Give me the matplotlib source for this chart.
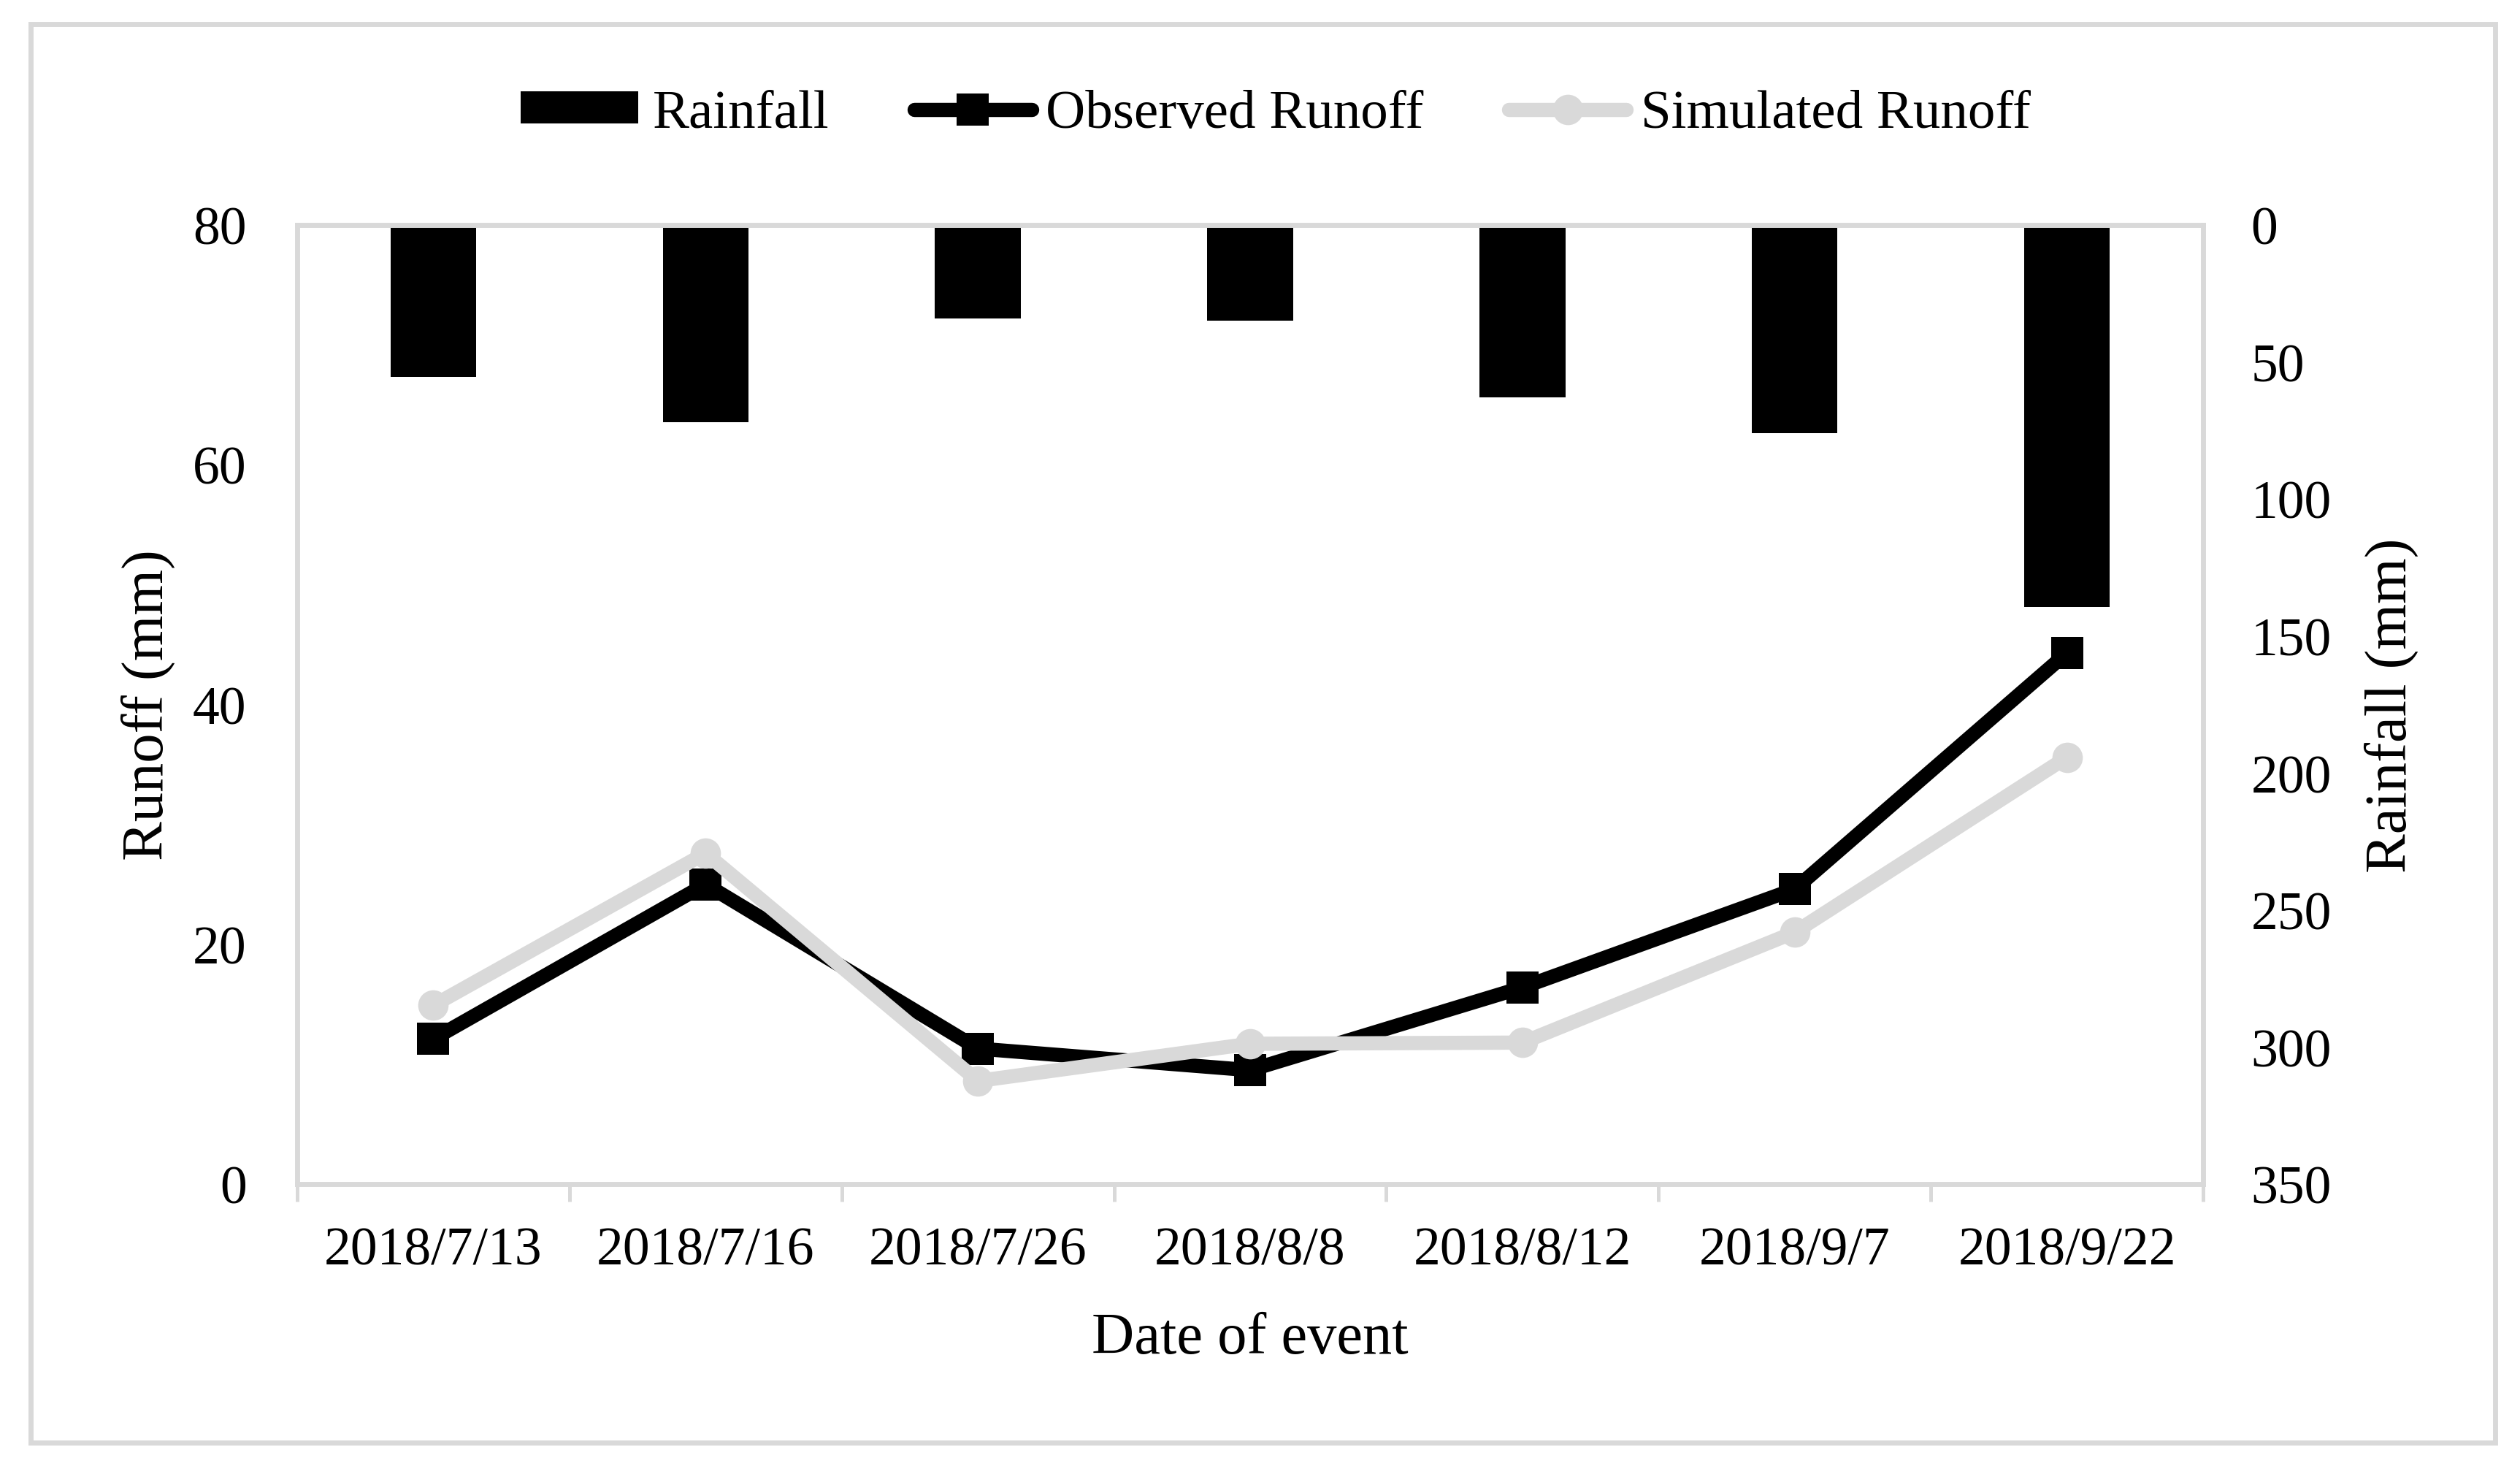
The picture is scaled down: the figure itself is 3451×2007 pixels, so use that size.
import matplotlib
matplotlib.use("Agg")
import matplotlib.pyplot as plt
from matplotlib.patches import Rectangle
import numpy as np

# --- Data ---
dates = ["2018/7/13", "2018/7/16", "2018/7/26", "2018/8/8",
         "2018/8/12", "2018/9/7", "2018/9/22"]
rainfall = [55.5, 72.0, 34.0, 34.8, 63.0, 76.0, 139.5]
observed_runoff = [12.1, 25.0, 11.3, 9.5, 16.4, 24.6, 44.3]
simulated_runoff = [14.9, 27.6, 8.6, 11.7, 11.8, 21.0, 35.6]

runoff_ticks = [0, 20, 40, 60, 80]
rain_ticks = [0, 50, 100, 150, 200, 250, 300, 350]

# --- Style ---
GRID_GREY = "#D9D9D9"
SIM_GREY = "#D9D9D9"
plt.rcParams["font.family"] = ["Liberation Serif", "DejaVu Serif"]
TICK_FS = 53
LABEL_FS = 58

W, H = 3451, 2008
fig = plt.figure(figsize=(W / 100, H / 100), dpi=100)

# axes box in pixels: left 407, right 3017, top 309, bottom 1622
ax = fig.add_axes([407 / W, 1 - 1622 / H, (3017 - 407) / W, (1622 - 309) / H])
ax2 = ax.twinx()

x = np.arange(len(dates))

# --- Rainfall bars on the reversed secondary axis ---
ax2.bar(x, rainfall, width=0.315, color="black", label="Rainfall")
ax2.set_ylim(350, 0)
ax2.set_yticks(rain_ticks)

# --- Runoff lines on the primary axis ---
ax.plot(x, observed_runoff, color="black", lw=14, marker="s", ms=31, mew=0,
        solid_capstyle="round", solid_joinstyle="round", label="Observed Runoff")
ax.plot(x, simulated_runoff, color=SIM_GREY, lw=14, marker="o", ms=30, mew=0,
        solid_capstyle="round", solid_joinstyle="round", label="Simulated Runoff")
ax.set_ylim(0, 80)
ax.set_yticks(runoff_ticks)
ax.set_xlim(-0.5, len(dates) - 0.5)

# lines above bars
ax.set_zorder(ax2.get_zorder() + 1)
ax.patch.set_visible(False)

# --- Spines ---
for a in (ax, ax2):
    for s in a.spines.values():
        s.set_visible(False)
for side in ("left", "bottom", "top"):
    ax.spines[side].set_visible(True)
    ax.spines[side].set_color(GRID_GREY)
    ax.spines[side].set_linewidth(5)
ax2.spines["right"].set_visible(True)
ax2.spines["right"].set_color(GRID_GREY)
ax2.spines["right"].set_linewidth(5)

# --- Ticks ---
ax.set_xticks(np.arange(-0.5, len(dates), 1.0))
ax.set_xticklabels([])
ax.set_xticks(x, minor=True)
ax.set_xticklabels(dates, minor=True, fontsize=TICK_FS)
ax.tick_params(axis="x", which="major", direction="out", length=17, width=3.6,
               color=GRID_GREY)
ax.tick_params(axis="x", which="minor", length=0, pad=42)
ax.tick_params(axis="y", length=0, pad=50, labelsize=TICK_FS)
ax2.tick_params(axis="y", length=0, pad=47, labelsize=TICK_FS)
ax2.tick_params(axis="x", length=0)

# --- Axis titles ---
ax.set_xlabel("Date of event", fontsize=LABEL_FS)
ax.xaxis.label.set_va("baseline")
ax.xaxis.set_label_coords(0.5, -0.176)
ax.set_ylabel("Runoff (mm)", fontsize=LABEL_FS)
ax.yaxis.label.set_va("baseline")
ax.yaxis.set_label_coords(-0.0705, 0.5)
ax2.set_ylabel("Rainfall (mm)", fontsize=LABEL_FS, rotation=90)
ax2.yaxis.label.set_va("baseline")
ax2.yaxis.set_label_coords(1.1065, 0.5)

# --- Legend across the top ---
h2, l2 = ax2.get_legend_handles_labels()
h1, l1 = ax.get_legend_handles_labels()
fig.legend(h2 + h1, l2 + l1, loc="center left",
           bbox_to_anchor=(713 / W, 1 - 157 / H), ncol=3, frameon=False,
           fontsize=54, handlelength=2.15, handleheight=0.52,
           handletextpad=0.26, columnspacing=1.55, borderpad=0,
           borderaxespad=0, markerscale=1.0)

# --- Outer chart border ---
fig.patches.append(Rectangle((42 / W, 1 - 1976 / H), (3417 - 42) / W,
                             (1976 - 34) / H, transform=fig.transFigure,
                             fill=False, edgecolor=GRID_GREY, linewidth=5))

fig.savefig("out.png", dpi=100, facecolor="white")
